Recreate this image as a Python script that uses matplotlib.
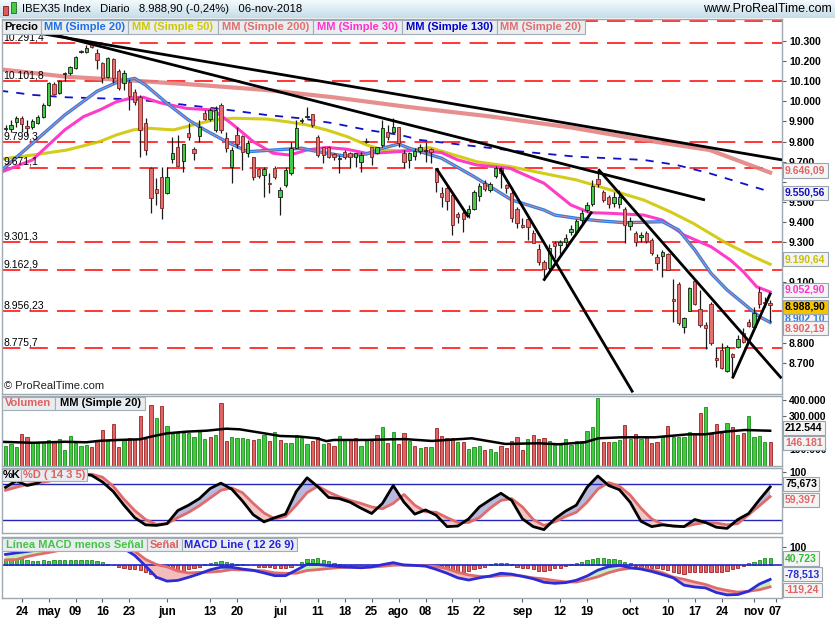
import numpy as np
import pandas as pd
import matplotlib
matplotlib.use("Agg")
import matplotlib.pyplot as plt
from matplotlib.patches import Rectangle
from matplotlib.colors import LinearSegmentedColormap

plt.rcParams['font.family'] = ['Liberation Sans', 'DejaVu Sans']

# ---- data ----
dates = pd.bdate_range('2018-04-19', '2018-11-06')
dates = dates[dates != pd.Timestamp('2018-05-01')]

opens = [9862, 9861, 9897, 9919, 9876, 9871, 9894, 9924, 9982, 10084,
         10043, 10136, 10139, 10164, 10245, 10244, 10286, 10242, 10189, 10123,
         10209, 10152, 10089, 10098, 10048, 10020, 9891, 9667, 9563, 9622,
         9543, 9712, 9775, 9705, 9841, 9765, 9828, 9940, 9910, 9858,
         9982, 9816, 9676, 9833, 9828, 9745, 9725, 9664, 9634, 9596,
         9670, 9523, 9584, 9642, 9770, 9902, 9920, 9935, 9821, 9771,
         9775, 9738, 9715, 9750, 9742, 9725, 9700, 9798, 9775, 9745,
         9783, 9850, 9849, 9871, 9745, 9709, 9728, 9755, 9755, 9762,
         9667, 9543, 9571, 9535, 9440, 9447, 9444, 9464, 9531, 9593,
         9560, 9629, 9667, 9584, 9543, 9465, 9386, 9414, 9348, 9265,
         9203, 9170, 9298, 9286, 9303, 9353, 9353, 9410, 9460, 9490,
         9613, 9551, 9523, 9497, 9490, 9464, 9381, 9344, 9325, 9344,
         9311, 9228, 9232, 9240, 9016, 9092, 8877, 8960, 9109, 8967,
         8889, 8993, 8723, 8765, 8660, 8745, 8778, 8851, 8905, 8877,
         9054, 9003, 9000]
highs = [9880, 9907, 9927, 9925, 9907, 9912, 9930, 9990, 10098, 10096,
         10108, 10148, 10175, 10225, 10255, 10280, 10292, 10260, 10195, 10220,
         10215, 10160, 10156, 10110, 10060, 10030, 9916, 9672, 9617, 9675,
         9675, 9825, 9833, 9788, 9891, 9775, 9907, 9955, 9965, 9977,
         9990, 9850, 9775, 9874, 9833, 9808, 9725, 9670, 9675, 9642,
         9680, 9576, 9675, 9800, 9907, 9916, 9974, 9935, 9833, 9775,
         9780, 9745, 9733, 9760, 9750, 9742, 9750, 9816, 9775, 9775,
         9907, 9882, 9916, 9874, 9758, 9750, 9770, 9790, 9800, 9770,
         9667, 9576, 9580, 9540, 9452, 9457, 9485, 9560, 9596, 9610,
         9600, 9680, 9672, 9590, 9576, 9477, 9419, 9424, 9361, 9290,
         9212, 9290, 9306, 9311, 9340, 9386, 9415, 9460, 9502, 9610,
         9662, 9560, 9535, 9550, 9560, 9477, 9427, 9357, 9350, 9355,
         9320, 9240, 9262, 9245, 9116, 9100, 8930, 9080, 9112, 9063,
         8905, 9005, 8781, 8798, 8790, 8748, 8840, 8872, 8917, 8980,
         9079, 9030, 9013]
lows = [9855, 9850, 9874, 9846, 9833, 9862, 9888, 9918, 9975, 10030,
        10037, 10100, 10130, 10160, 10240, 10238, 10265, 10160, 10090, 10115,
        10090, 10056, 10056, 9957, 9982, 9725, 9733, 9443, 9485, 9414,
        9540, 9692, 9680, 9650, 9808, 9709, 9800, 9908, 9900, 9850,
        9845, 9750, 9593, 9767, 9659, 9725, 9610, 9620, 9526, 9543,
        9615, 9435, 9576, 9634, 9766, 9891, 9916, 9874, 9725, 9692,
        9720, 9710, 9642, 9715, 9667, 9675, 9650, 9791, 9684, 9740,
        9775, 9808, 9845, 9775, 9667, 9667, 9710, 9740, 9697, 9692,
        9551, 9477, 9460, 9336, 9394, 9353, 9419, 9460, 9507, 9555,
        9550, 9620, 9568, 9545, 9402, 9369, 9369, 9311, 9295, 9187,
        9113, 9150, 9220, 9240, 9280, 9336, 9336, 9390, 9452, 9480,
        9576, 9502, 9470, 9477, 9470, 9295, 9361, 9281, 9300, 9295,
        9236, 9162, 9129, 9160, 8905, 8890, 8848, 8960, 8988, 8880,
        8768, 8789, 8682, 8670, 8655, 8624, 8776, 8798, 8880, 8872,
        8972, 8980, 8905]
closes = [9868, 9883, 9919, 9886, 9866, 9902, 9924, 9980, 10089, 10036,
          10101, 10140, 10169, 10219, 10249, 10267, 10271, 10205, 10118, 10214,
          10114, 10065, 10139, 10027, 9998, 9858, 9758, 9518, 9546, 9469,
          9626, 9745, 9681, 9788, 9821, 9745, 9874, 9911, 9955, 9957,
          9858, 9767, 9758, 9788, 9750, 9791, 9626, 9629, 9662, 9589,
          9622, 9559, 9659, 9770, 9869, 9906, 9926, 9882, 9733, 9733,
          9725, 9722, 9719, 9722, 9722, 9742, 9733, 9802, 9722, 9771,
          9866, 9825, 9870, 9791, 9700, 9742, 9753, 9775, 9760, 9748,
          9598, 9527, 9505, 9386, 9424, 9414, 9464, 9548, 9580, 9563,
          9590, 9667, 9642, 9568, 9419, 9394, 9374, 9374, 9298, 9203,
          9165, 9270, 9281, 9303, 9323, 9364, 9406, 9444, 9485, 9581,
          9588, 9510, 9490, 9523, 9523, 9386, 9404, 9303, 9335, 9308,
          9248, 9195, 9253, 9162, 9008, 8897, 8922, 9071, 8993, 8889,
          8872, 8801, 8715, 8674, 8781, 8728, 8817, 8806, 8884, 8950,
          8993, 8998, 8988.9]

volume_k = [119, 133, 113, 193, 177, 137, 140, 145, 157, 145,
            165, 96, 180, 137, 120, 124, 112, 157, 217, 157,
            253, 112, 157, 167, 160, 301, 160, 368, 287, 362,
            241, 191, 197, 197, 197, 177, 207, 160, 172, 185,
            378, 151, 172, 167, 167, 160, 157, 160, 185, 151,
            203, 157, 137, 141, 185, 170, 131, 151, 177, 131,
            139, 119, 180, 157, 157, 167, 119, 160, 151, 187,
            233, 141, 203, 135, 197, 151, 120, 106, 112, 112,
            227, 181, 167, 167, 143, 143, 102, 112, 120, 96,
            102, 82, 120, 106, 151, 173, 96, 163, 187, 163,
            167, 151, 127, 127, 163, 127, 151, 151, 211, 233,
            408, 143, 143, 143, 157, 247, 163, 191, 163, 177,
            137, 143, 173, 241, 173, 177, 177, 203, 191, 318,
            354, 191, 253, 197, 257, 237, 187, 197, 301, 177,
            181, 143, 146.181]
# bar colour as drawn: g = up, r = down
volume_dir = ("gggrrggggr" "ggggggrrrg" "rrgrrrrrgr" "ggggggggrg" "rrggggrggr"
              "grgggggrrg" "rrggrrggrr" "grgrrgrgrg" "rrrrgrgggr" "ggrrrrrgrr"
              "rggggggggg" "grrggrgrgr" "rrgrggggrr" "grrrgrgrgg" "ggr")

# moving averages (trading-day index, value)
ma20_x = [-1, 5, 11, 17, 21, 24, 26, 30, 34, 37, 41, 45, 48, 52, 55, 58, 63, 67, 70, 73,
          75, 81, 87, 94, 100, 102, 106, 110, 115, 122, 125, 128, 131, 134, 137, 140, 142]
ma20_y = [9651, 9791, 9932, 10050, 10098, 10114, 10081, 9990, 9907, 9858, 9800, 9750, 9755, 9762,
          9767, 9750, 9728, 9738, 9767, 9788, 9767, 9717, 9626, 9510, 9460, 9435, 9419, 9407,
          9397, 9402, 9361, 9262, 9146, 9063, 8997, 8930, 8902.19]
ma30_x = [-1, 5, 11, 14.5, 17.5, 20.6, 23.7, 25.6, 28.7, 33.6, 38.6, 42.3, 46, 49.7, 52.8, 55.9,
          59.6, 63.4, 67, 70, 73, 76, 81, 84, 87.5, 93.7, 100, 105, 108.5, 112, 118.5, 122, 126,
          131, 134.6, 137, 139.5, 142]
ma30_y = [9646, 9709, 9858, 9924, 9957, 9998, 10018, 10020, 9993, 9965, 9957, 9883, 9800, 9742,
          9733, 9758, 9771, 9762, 9742, 9745, 9750, 9758, 9745, 9709, 9684, 9667, 9593, 9485,
          9447, 9444, 9435, 9410, 9336, 9278, 9212, 9154, 9079, 9052.9]
ma50_x = [-1, 5, 11.4, 17.5, 20.6, 23.7, 26.8, 31.2, 34.9, 38.6, 42.3, 48.5, 52.2, 55.9, 59.6,
          63.4, 67.1, 70.2, 73.3, 76.4, 78.8, 84.4, 87.5, 93.7, 99.9, 106.1, 112.3, 118.5, 123.4,
          127.7, 133.9, 138.9, 142]
ma50_y = [9712, 9733, 9758, 9800, 9833, 9858, 9866, 9858, 9883, 9907, 9916, 9912, 9899, 9883,
          9858, 9825, 9783, 9758, 9755, 9762, 9770, 9725, 9700, 9676, 9642, 9609, 9560, 9510,
          9452, 9394, 9295, 9228, 9190.64]
ma200_x = [-1, 11.4, 23.7, 36.1, 48.5, 60.9, 73.3, 77, 90, 105, 118.5, 130.8, 142]
ma200_y = [10159, 10122, 10103, 10081, 10056, 10020, 9977, 9965, 9925, 9870, 9808, 9758, 9646.09]
ma130_x = [-1, 5, 11.4, 17.5, 23.7, 29.9, 36.1, 42.3, 48.5, 54.7, 60.9, 67.1, 73.3, 77, 96, 106,
           118.5, 124.6, 130.8, 142]
ma130_y = [10053, 10032, 10020, 10015, 10010, 9993, 9974, 9954, 9932, 9916, 9891, 9858, 9833,
           9808, 9750, 9725, 9709, 9684, 9642, 9550.56]

vol_ma_x = [-1, 5, 11, 15, 17.5, 21, 25, 27, 30, 33.6, 37.4, 41, 43.5, 47.3, 51, 54.7, 57.8,
            59.6, 61, 67, 72, 74.2, 79.2, 86.6, 92.8, 99, 102.7, 107.6, 110.1, 114.4, 120.6,
            126.8, 129.9, 133.6, 137.3, 142]
vol_ma_k = [146, 140, 146, 143, 152, 157, 161, 177, 197, 207, 213, 225, 221, 201, 181, 177, 167,
            150, 157, 157, 161, 162, 151, 167, 133, 137, 131, 143, 167, 173, 173,
            191, 191, 207, 217, 212.544]

# horizontal levels drawn on the chart
level_vals = [10399, 10291.4, 10101.8, 9799.3, 9671.1, 9301.3, 9162.9, 8956.23, 8775.7]
level_text = ['', '10.291,4', '10.101,8', '9.799,3', '9.671,1', '9.301,3', '9.162,9', '8.956,23', '8.775,7']

# trend lines (index, price) pairs
trend_lines = [((7, 10335), (144.2, 9709)),
               ((7, 10345), (129.9, 9510)),
               ((80, 9667), (86, 9424)),
               ((91.8, 9667), (116.5, 8554)),
               ((99.9, 9109), (108.9, 9452)),
               ((110.1, 9662), (144.1, 8624)),
               ((135, 8624), (142.1, 9049))]

# stochastic and MACD, every second session
osc_x = list(range(0, 143, 2))
stoch_k = [75, 86, 78, 82, 95, 94, 97, 98, 95, 84, 68, 45, 24, 12, 11, 14, 36, 45, 56, 73,
           82, 72, 52, 29, 17, 24, 30, 68, 91, 76, 58, 56, 50, 40, 31, 48, 78, 50, 30, 37,
           28, 9, 10, 22, 42, 54, 65, 53, 22, 9, 4, 22, 35, 45, 75, 94, 78, 71, 50, 18,
           9, 12, 10, 9, 21, 16, 8, 6, 21, 31, 54, 75.673]
stoch_d = [70, 75, 80, 82, 85, 90, 93, 96, 97, 92, 77, 55, 36, 21, 13, 14, 24, 33, 44, 57,
           70, 74, 66, 48, 32, 22, 26, 45, 66, 77, 67, 59, 53, 48, 42, 39, 48, 63, 45, 34,
           33, 24, 16, 16, 24, 40, 53, 56, 42, 21, 11, 17, 26, 33, 50, 72, 83, 77, 62, 40,
           22, 13, 10, 9, 13, 16, 15, 12, 14, 29, 44, 59.397]
macd_line = [58, 66, 74, 82, 92, 105, 118, 128, 135, 130, 115, 90, 52, -5, -66, -88, -84, -67,
             -48, -26, -12, -12, -22, -29, -43, -58, -58, -28, 4, 3, -3, -9, -12, -15, -10, 2,
             13, 0, -2, -6, -24, -45, -70, -82, -70, -60, -45, -50, -62, -75, -94, -100, -96,
             -83, -60, -28, -9, -2, -14, -22, -35, -52, -70, -110, -120, -125, -150, -163,
             -161, -143, -104, -78.513]
macd_signal = [28, 30, 46, 58, 68, 80, 88, 98, 108, 114, 115, 105, 76, 31, 3, -10, -33, -43,
               -40, -39, -34, -25, -27, -29, -32, -43, -45, -45, -30, -25, -19, -14, -12, -12,
               -11, -7, -1, 0, -2, -4, -8, -20, -40, -54, -62, -64, -57, -55, -60, -70, -76,
               -85, -92, -93, -80, -64, -42, -26, -18, -19, -27, -42, -66, -78, -93, -106,
               -126, -139, -148, -143, -135, -119.24]
macd_hist = [31, 36, 40, 36, 25, 22, 22, 25, 22, 29, 25, 29, 29, 29, 29, 29, 25, 22, 18, 7,
             0, -9, -15, -20, -24, -29, -36, -51, -69, -78, -78, -69, -51, -36, -24, -15, -11, 7, 13, 18,
             22, 18, 13, 7, 7, 0, 0, -9, -11, -11, -15, -15, -15, -9, 0, 18, 31, 35, 36, 29,
             22, 13, 7, 0, -3, -5, -5, -4, -2, 2, 8, 12, 14, 10, 5, 0, 0, -1, -2, -3,
             -18, -27, -31, -36, -36, -36, -33, -22, -15, -9, 5, 9, 9, 9, 4, -9, -15, -15, -22, -31,
             -31, -27, -18, -15, -5, 4, 9, 18, 27, 33, 36, 36, 33, 33, 27, 18, 9, -4, -9, -15,
             -18, -18, -22, -27, -36, -46, -51, -40, -36, -36, -36, -36, -36, -36, -33, -22, -15, -5, 9, 18,
             27, 36, 40.723]

tick_days = ['2018-04-24', '2018-05-02', '2018-05-09', '2018-05-16', '2018-05-23', '2018-06-01',
             '2018-06-13', '2018-06-20', '2018-07-02', '2018-07-11', '2018-07-18', '2018-07-25',
             '2018-08-01', '2018-08-08', '2018-08-15', '2018-08-22', '2018-09-03', '2018-09-12',
             '2018-09-19', '2018-10-01', '2018-10-10', '2018-10-17', '2018-10-24', '2018-11-01',
             '2018-11-07']
tick_text = ['24', 'may', '09', '16', '23', 'jun', '13', '20', 'jul', '11', '18', '25', 'ago',
             '08', '15', '22', 'sep', '12', '19', 'oct', '10', '17', '24', 'nov', '07']

# ---- figure ----
W, H = 835, 620
fig = plt.figure(figsize=(W / 100, H / 100), dpi=100)
GRID = '#9ea8b1'


def px_box(x0, y0, x1, y1):
    return [x0 / W, 1 - y1 / H, (x1 - x0) / W, (y1 - y0) / H]


def thousands(v):
    return f"{int(round(v)):,}".replace(',', '.')


def style_panel(ax):
    for s in ax.spines.values():
        s.set_color(GRID)
        s.set_linewidth(1)
    ax.yaxis.tick_right()
    ax.tick_params(axis='y', direction='out', length=3, color='#606060', pad=2,
                   labelsize=7.5)
    ax.tick_params(axis='x', length=0, labelbottom=False)


def value_box(ax, val, text, color, dy=0, fc='#f4f4f4'):
    ax.annotate(text, xy=(1, val), xycoords=('axes fraction', 'data'),
                xytext=(2.2, -dy * 0.72), textcoords='offset points',
                ha='left', va='center', fontsize=7.5, fontweight='bold', color=color,
                bbox=dict(boxstyle='square,pad=0.2', fc=fc, ec='#98a4ae', lw=0.8),
                annotation_clip=False, zorder=30)


def legend_row(y0, y1, items):
    for text, color, x0, x1 in items:
        fig.add_artist(Rectangle((x0 / W, 1 - y1 / H), (x1 - x0) / W, (y1 - y0) / H,
                                 transform=fig.transFigure, fc='#eaedf0', ec='#a3adb5',
                                 lw=0.8, zorder=50))
        fig.text((x0 + x1) / 2 / W, 1 - (y0 + y1) / 2 / H, text, ha='center', va='center',
                 fontsize=8, fontweight='bold', color=color, zorder=51)


ax_p = fig.add_axes(px_box(2, 19, 782, 394))
ax_v = fig.add_axes(px_box(2, 396, 782, 466), sharex=ax_p)
ax_s = fig.add_axes(px_box(2, 468, 782, 533), sharex=ax_p)
ax_m = fig.add_axes(px_box(2, 537, 782, 598), sharex=ax_p)

x = np.arange(len(dates))
o, h, l, c = (np.array(a, dtype=float) for a in (opens, highs, lows, closes))
up = c >= o

# price panel
ax_p.set_xlim(-0.65, 144.2)
ax_p.set_ylim(8546, 10409)
for val, txt in zip(level_vals, level_text):
    ax_p.axhline(val, color='#ff0000', lw=1.1, dashes=(12, 6), zorder=1)
    if txt:
        ax_p.text(0.002, val + 3, txt, fontsize=7.5, va='bottom', ha='left', zorder=6,
                  transform=ax_p.get_yaxis_transform())

ax_p.plot(ma200_x, ma200_y, color='#e27b7b', lw=3, alpha=0.85, zorder=2)
ax_p.plot(ma130_x, ma130_y, color='#1010c8', lw=1.3, dashes=(4.5, 4.5), zorder=2)
ax_p.plot(ma50_x, ma50_y, color='#cfc800', lw=2.2, alpha=0.9, zorder=2)
ax_p.plot(ma30_x, ma30_y, color='#ff3cc8', lw=2.2, zorder=2)
ax_p.plot(ma20_x, ma20_y, color='#2f7fe6', lw=2.4, zorder=2)
ax_p.plot(ma20_x, ma20_y, color='#e88a8a', lw=0.6, zorder=2)

ax_p.vlines(x, l, h, color='#1a1a1a', lw=0.9, zorder=3)
body_lo = np.minimum(o, c)
body_h = np.maximum(np.abs(c - o), 4)
ax_p.bar(x[up], body_h[up], 0.62, bottom=body_lo[up], color='#44cc44',
         edgecolor='#1a1a1a', lw=0.6, zorder=4)
ax_p.bar(x[~up], body_h[~up], 0.62, bottom=body_lo[~up], color='#e27070',
         edgecolor='#7a2020', lw=0.6, zorder=4)

for (x0, y0), (x1, y1) in trend_lines:
    ax_p.plot([x0, x1], [y0, y1], color='black', lw=2, zorder=5, solid_capstyle='butt')

style_panel(ax_p)
pt = np.arange(8700, 10301, 100)
covered = {9600, 9200, 9000, 8900}   # hidden behind the value boxes on the chart
ax_p.set_yticks(pt)
ax_p.set_yticklabels(['' if v in covered else thousands(v) for v in pt],
                     fontweight='bold', fontsize=7.5)
ax_p.text(0.003, 0.022, '\u00a9 ProRealTime.com', transform=ax_p.transAxes, fontsize=8,
          color='#202020', va='center')

value_box(ax_p, 9646.09, '9.646,09', '#e06666', dy=-2)
value_box(ax_p, 9550.56, '9.550,56', '#1010c8', dy=1)
value_box(ax_p, 9190.64, '9.190,64', '#c8c000', dy=-5)
value_box(ax_p, 9052.90, '9.052,90', '#ff33cc', dy=-2)
value_box(ax_p, 8902.10, '8.902,10', '#2f7fe6', dy=-4)
value_box(ax_p, 8988.90, '8.988,90', 'black', dy=2, fc='#f5c400')
value_box(ax_p, 8902.19, '8.902,19', '#e06666', dy=6)

# volume panel
vol = np.array(volume_k) * 1000
vol_up = np.array([d == 'g' for d in volume_dir])
ax_v.bar(x[vol_up], vol[vol_up], 0.6, color='#3fcc3f', edgecolor='#1d8a1d', lw=0.6)
ax_v.bar(x[~vol_up], vol[~vol_up], 0.6, color='#e06464', edgecolor='#9a2525', lw=0.6)
ax_v.plot(vol_ma_x, np.array(vol_ma_k) * 1000, color='black', lw=1.8)
ax_v.set_ylim(0, 422000)
style_panel(ax_v)
vt = [100000, 200000, 300000, 400000]
ax_v.set_yticks(vt)
ax_v.set_yticklabels(['' if v == 200000 else thousands(v) for v in vt],
                     fontweight='bold', fontsize=7.5)
value_box(ax_v, 212544, '212.544', 'black', dy=-3)
value_box(ax_v, 146181, '146.181', '#e06666', dy=1)

# stochastic panel
sk, sd = np.array(stoch_k), np.array(stoch_d)
ax_s.fill_between(osc_x, sk, sd, where=sk >= sd, interpolate=True, color='#b9b9dd', lw=0)
ax_s.fill_between(osc_x, sk, sd, where=sk < sd, interpolate=True, color='#f3c6c6', lw=0)
ax_s.axhline(80, color='#2424b8', lw=1)
ax_s.axhline(20, color='#2424b8', lw=1)
ax_s.plot(osc_x, sd, color='#e06b6b', lw=2)
ax_s.plot(osc_x, sk, color='black', lw=2)
ax_s.set_ylim(-1.7, 107.4)
style_panel(ax_s)
ax_s.set_yticks([100])
ax_s.set_yticklabels(['100'], fontweight='bold', fontsize=7.5)
value_box(ax_s, 75.673, '75,673', 'black', dy=-3)
value_box(ax_s, 59.397, '59,397', '#e06666', dy=3)

# MACD panel
hist = np.array(macd_hist)
ax_m.bar(x[hist >= 0], hist[hist >= 0], 0.6, color='#3fcc3f', edgecolor='#1d8a1d', lw=0.6)
ax_m.bar(x[hist < 0], hist[hist < 0], 0.6, color='#e06464', edgecolor='#9a2525', lw=0.6)
ml, ms = np.array(macd_line), np.array(macd_signal)
ax_m.fill_between(osc_x, ml, ms, where=ml >= ms, interpolate=True, color='#bff2b8', lw=0)
ax_m.fill_between(osc_x, ml, ms, where=ml < ms, interpolate=True, color='#f4bcbc', lw=0)
ax_m.axhline(0, color='#2424d0', lw=1.2)
ax_m.plot(osc_x, ms, color='#e06b6b', lw=2)
ax_m.plot(osc_x, ml, color='#2b2bd8', lw=2)
ax_m.set_ylim(-180, 153)
style_panel(ax_m)
ax_m.set_yticks([100])
ax_m.set_yticklabels(['100'], fontweight='bold', fontsize=7.5)
value_box(ax_m, 40.723, '40,723', '#33bb33', dy=1)
value_box(ax_m, -78.513, '-78,513', '#2b2bd8', dy=-5)
value_box(ax_m, -119.24, '-119,24', '#e06666', dy=3)

tick_pos = [dates.searchsorted(pd.Timestamp(d)) for d in tick_days]
ax_m.set_xticks(tick_pos)
ax_m.set_xticklabels(tick_text, fontweight='bold')
ax_m.tick_params(axis='x', length=3, color='#606060', labelbottom=True, labelsize=8.5, pad=3)

# legends on panels
legend_row(20, 34, [('Precio', 'black', 2, 41), ('MM (Simple 20)', '#1f6fe8', 41, 128),
                    ('MM (Simple 50)', '#cfc800', 128, 218), ('MM (Simple 200)', '#e06f6f', 218, 313),
                    ('MM (Simple 30)', '#ff33cc', 313, 402), ('MM (Simple 130)', '#0000cc', 402, 497),
                    ('MM (Simple 20)', '#e06f6f', 497, 585)])
legend_row(397, 410, [('Volumen', '#e06060', 2, 55), ('MM (Simple 20)', 'black', 55, 145)])
legend_row(469, 481, [('%K', 'black', 2, 21), ('%D ( 14 3 5)', '#e06060', 21, 87)])
legend_row(538, 551, [('L\u00ednea MACD menos Se\u00f1al', '#44c444', 2, 147),
                      ('Se\u00f1al', '#e06060', 147, 182),
                      ('MACD Line ( 12 26 9)', '#2222dd', 182, 297)])

# title bar
ax_t = fig.add_axes(px_box(0, 0, 835, 18))
grad = LinearSegmentedColormap.from_list('bar', ['#f3fafd', '#c6dde8'])
ax_t.imshow(np.linspace(0, 1, 20).reshape(-1, 1), cmap=grad, aspect='auto', extent=[0, 1, 0, 1])
ax_t.set_xlim(0, 1)
ax_t.set_ylim(0, 1)
ax_t.axis('off')
ax_t.add_patch(Rectangle((3 / W, 0.18), 5 / W, 0.5, fc='#e05a5a', ec='#702020', lw=0.6))
ax_t.add_patch(Rectangle((11 / W, 0.3), 5 / W, 0.6, fc='#44cc44', ec='#1d6a1d', lw=0.6))
ax_t.text(22 / W, 0.48, 'IBEX35 Index   Diario   8.988,90 (-0,24%)   06-nov-2018',
          fontsize=8.1, va='center', ha='left', color='black')
ax_t.text(832 / W, 0.48, 'www.ProRealTime.com', fontsize=9, va='center', ha='right',
          color='black')

fig.savefig('out.png', dpi=100)
